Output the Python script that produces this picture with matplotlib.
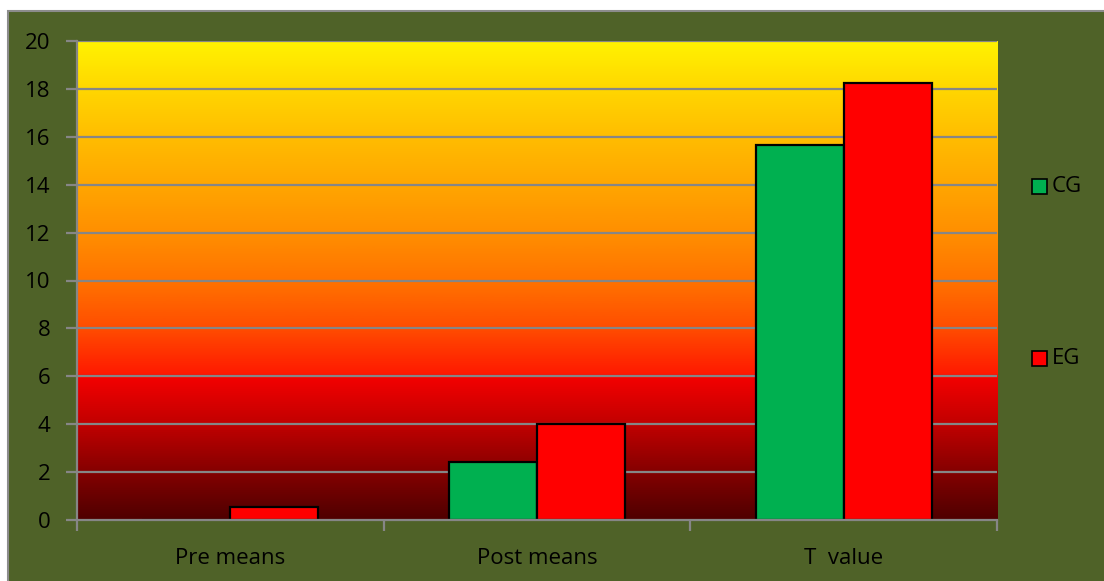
import numpy as np
import matplotlib
matplotlib.use("Agg")
import matplotlib.pyplot as plt
from matplotlib.colors import LinearSegmentedColormap
from matplotlib.patches import Rectangle

categories = ["Pre means", "Post means", "T  value"]
cg_values = [0.0, 2.42, 15.66]
eg_values = [0.54, 4.0, 18.23]
series_names = ["CG", "EG"]
y_ticks = [0, 2, 4, 6, 8, 10, 12, 14, 16, 18, 20]

OLIVE = "#4F6228"
GREEN = "#00B050"
RED = "#FF0000"
GRID = "#868686"
FS = 16

plt.rcParams["font.family"] = ["Open Sans", "DejaVu Sans"]

W, H = 1104, 581
fig = plt.figure(figsize=(W / 100, H / 100), dpi=100, facecolor="white")

# chart-area panel with a thin grey border
panel = Rectangle((8 / W, -0.1), 1.2, (H - 11) / H + 0.1, transform=fig.transFigure,
                  facecolor=OLIVE, edgecolor="#8C8C8C", linewidth=1.5, zorder=-10)
fig.patches.append(panel)

ax = fig.add_axes([77 / W, (H - 520) / H, 920 / W, 479 / H])
ax.set_facecolor("none")
ax.set_zorder(1)

# vertical background gradient: dark red at the bottom up to yellow at the top
stops = [
    (0.0, (0.31, 0.0, 0.0)),
    (2 / 20, (0.52, 0.0, 0.0)),
    (4 / 20, (0.76, 0.0, 0.0)),
    (5.9 / 20, (0.95, 0.0, 0.0)),
    (6.1 / 20, (1.0, 0.1, 0.0)),
    (8 / 20, (1.0, 0.30, 0.0)),
    (10 / 20, (1.0, 0.45, 0.0)),
    (12 / 20, (1.0, 0.56, 0.0)),
    (14 / 20, (1.0, 0.65, 0.0)),
    (16 / 20, (1.0, 0.74, 0.0)),
    (18 / 20, (1.0, 0.84, 0.0)),
    (1.0, (1.0, 0.95, 0.0)),
]
cmap = LinearSegmentedColormap.from_list("bg", stops)
grad = np.linspace(0, 1, 512).reshape(-1, 1)
x = np.arange(len(categories))
ax.imshow(grad, cmap=cmap, origin="lower", aspect="auto",
          extent=(-0.5, len(categories) - 0.5, 0, 20), zorder=0)

ax.set_xlim(-0.5, len(categories) - 0.5)
ax.set_ylim(0, 20)

for yv in y_ticks[1:]:
    ax.axhline(yv, color=GRID, linewidth=1.6, zorder=1)

bw = 0.287
ax.bar(x - bw / 2, cg_values, width=bw, color=GREEN, edgecolor="black",
       linewidth=1.6, zorder=2, label=series_names[0])
ax.bar(x + bw / 2, eg_values, width=bw, color=RED, edgecolor="black",
       linewidth=1.6, zorder=2, label=series_names[1])

for side in ["top", "right"]:
    ax.spines[side].set_visible(False)
for side in ["left", "bottom"]:
    ax.spines[side].set_color(GRID)
    ax.spines[side].set_linewidth(1.6)
    ax.spines[side].set_zorder(3)

ax.set_yticks(y_ticks)
ax.set_yticklabels([str(v) for v in y_ticks], fontsize=FS, color="black")
ax.tick_params(axis="y", length=8, width=1.6, color=GRID, pad=11)

# category labels centered, tick marks at category boundaries
ax.set_xticks(x)
ax.set_xticklabels(categories, fontsize=FS, color="black")
ax.tick_params(axis="x", length=0, pad=20)
ax.set_xticks(np.arange(-0.5, len(categories)), minor=True)
ax.tick_params(axis="x", which="minor", length=8, width=1.6, color=GRID)

# legend entries placed at the right side of the panel
for name, col, ypix in [(series_names[0], GREEN, 186), (series_names[1], RED, 358)]:
    fig.patches.append(Rectangle((1032 / W, (H - ypix - 8) / H), 15 / W, 15 / H,
                                 transform=fig.transFigure, facecolor=col,
                                 edgecolor="black", linewidth=1.2, zorder=5))
    fig.text(1052 / W, (H - ypix) / H, name, fontsize=FS, color="black",
             va="center", ha="left")

fig.savefig("out.png", dpi=100, facecolor="white")
